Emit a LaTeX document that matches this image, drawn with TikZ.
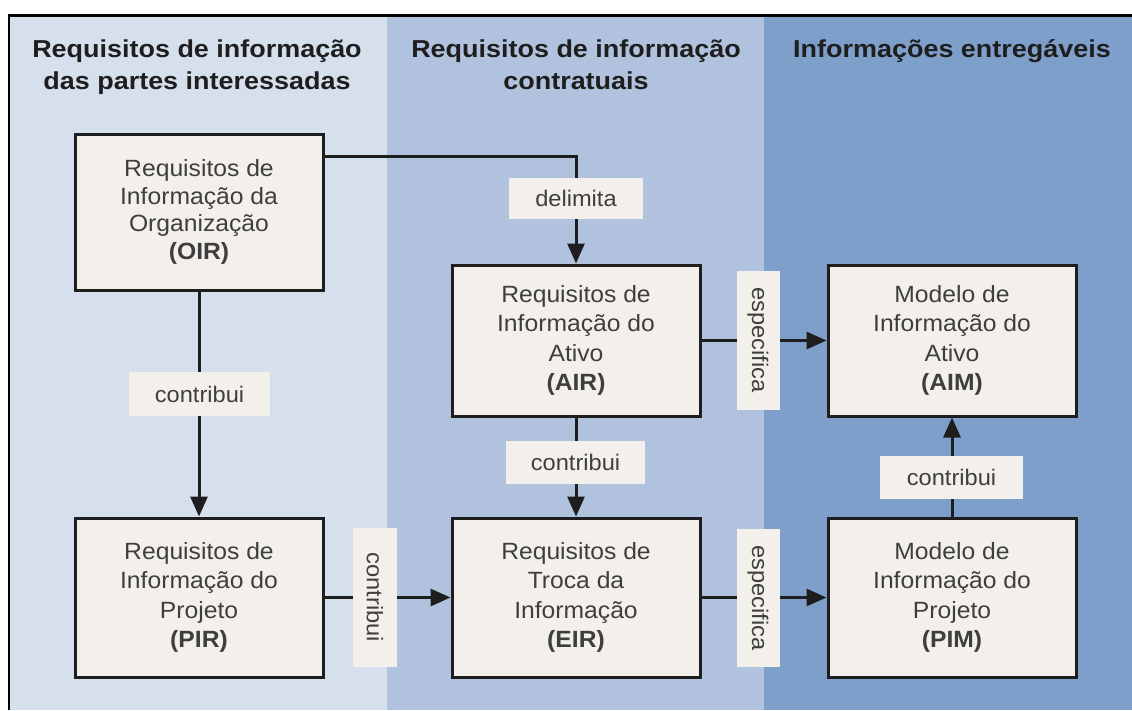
\documentclass[tikz,border=0pt]{standalone}
\usepackage{fontspec}
\setmainfont{Liberation Sans}[FakeStretch=1.05]
\newfontfamily\hdrfont{Liberation Sans}[FakeStretch=1.1]
\usetikzlibrary{arrows.meta}
\definecolor{panelA}{RGB}{214,224,237}
\definecolor{panelB}{RGB}{176,194,222}
\definecolor{panelC}{RGB}{127,159,203}
\definecolor{boxfill}{RGB}{243,240,236}
\definecolor{ink}{RGB}{30,30,30}
\definecolor{txt}{RGB}{62,62,62}
\begin{document}
\begin{tikzpicture}[x=1pt,y=-1pt,
  box/.style={draw=ink,line width=3pt,fill=boxfill,minimum width=248pt,minimum height=159pt,align=center,font=\fontsize{23.5}{29.5}\selectfont,text=txt,inner sep=0pt},
  tag/.style={fill=boxfill,text=txt,font=\fontsize{22.5}{27}\selectfont,inner sep=0pt},
  hdr/.style={font=\hdrfont\bfseries\fontsize{24.5}{30}\selectfont,text=ink,anchor=base,inner sep=0pt},
  conn/.style={draw=ink,line width=3pt},
  arr/.style={conn,-{Triangle[length=20pt,width=17pt]}}]
\useasboundingbox (0,0) rectangle (1132,710);
\fill[white] (0,0) rectangle (1132,710);
\fill[panelA] (10,17) rectangle (387,710);
\fill[panelB] (387,17) rectangle (764,710);
\fill[panelC] (764,17) rectangle (1132,710);
\draw[black,line width=2.5pt] (9,710) -- (9,15.5) -- (1132,15.5);

\node[hdr] (h1a) at (197,57) {Requisitos de informação};
\node[hdr] (h1b) at (197,89) {das partes interessadas};
\node[hdr] (h2a) at (576,57) {Requisitos de informação};
\node[hdr] (h2b) at (576,89) {contratuais};
\node[hdr] (h3) at (952,57) {Informações entregáveis};

\node[box,minimum height=156pt,font=\fontsize{23.5}{27.5}\selectfont] (OIR) at (199,212) {Requisitos de\\Informação da\\Organização\\\textbf{(OIR)}};
\node[box,minimum height=151pt] (AIR) at (576,340.5) {Requisitos de\\Informação do\\Ativo\\\textbf{(AIR)}};
\node[box,minimum height=151pt] (AIM) at (952,340.5) {Modelo de\\Informação do\\Ativo\\\textbf{(AIM)}};
\node[box] (PIR) at (199,597.5) {Requisitos de\\Informação do\\Projeto\\\textbf{(PIR)}};
\node[box] (EIR) at (576,597.5) {Requisitos de\\Troca da\\Informação\\\textbf{(EIR)}};
\node[box] (PIM) at (952,597.5) {Modelo de\\Informação do\\Projeto\\\textbf{(PIM)}};

\coordinate (bend) at (576,156);
\draw[arr] (OIR.east |- bend) -- (bend) -- (AIR.north);
\draw[arr] (OIR.south) -- (PIR.north);
\draw[arr] (AIR.south) -- (EIR.north);
\draw[arr] (PIM.north) -- (AIM.south);
\draw[arr] (AIR.east) -- (AIM.west);
\draw[arr] (PIR.east) -- (EIR.west);
\draw[arr] (EIR.east) -- (PIM.west);

\node[tag,minimum width=134pt,minimum height=41pt] (l1) at (576,198) {delimita};
\node[tag,minimum width=141pt,minimum height=44pt] (l2) at (199.5,394) {contribui};
\node[tag,minimum width=139pt,minimum height=43pt] (l3) at (575.5,462.5) {contribui};
\node[tag,minimum width=143pt,minimum height=43pt] (l4) at (951.5,477.5) {contribui};
\node[tag,minimum width=139pt,minimum height=44pt,rotate=-90] (l5) at (375,597.5) {contribui};
\node[tag,minimum width=139pt,minimum height=43pt,rotate=-90] (l6) at (758,340) {especifica};
\node[tag,minimum width=138pt,minimum height=43pt,rotate=-90] (l7) at (758,598) {especifica};
\end{tikzpicture}
\end{document}
